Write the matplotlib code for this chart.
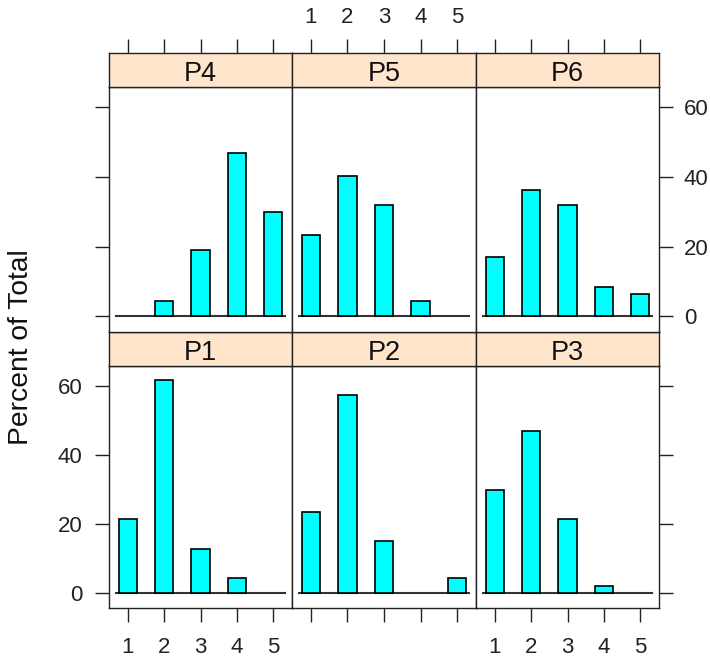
import matplotlib
matplotlib.use('agg')
from matplotlib import pyplot as plt
import numpy as np

plt.rcParams['font.family'] = ['Liberation Sans', 'DejaVu Sans']

# percent of total per score (1..5), one list per panel
scores = [1, 2, 3, 4, 5]
p1 = [21.3, 61.7, 12.8, 4.3, 0]
p2 = [23.4, 57.4, 14.9, 0, 4.3]
p3 = [29.8, 46.8, 21.3, 2.1, 0]
p4 = [0, 4.3, 19.1, 46.8, 29.8]
p5 = [23.4, 40.4, 31.9, 4.3, 0]
p6 = [17.0, 36.2, 31.9, 8.5, 6.4]
panel_names = ['P1', 'P2', 'P3', 'P4', 'P5', 'P6']
panel_values = [p1, p2, p3, p4, p5, p6]
y_ticks = [0, 20, 40, 60]

W, H = 710, 661
fig = plt.figure(figsize=(W / 100, H / 100), dpi=100)

x_edges = [109, 292, 476, 659]
# (strip top, body top, body bottom) in pixels for top row and bottom row
rows = [(52.7, 87.3, 331.7), (331.7, 366.0, 608.3)]
edge_col = '#222222'
tick_fs = 16


def box(x0, x1, y0, y1):
    return [x0 / W, 1 - y1 / H, (x1 - x0) / W, (y1 - y0) / H]


for i in range(6):
    r = 1 if i < 3 else 0   # P1-P3 bottom row, P4-P6 top row
    c = i % 3
    s_top, b_top, b_bot = rows[r]
    x0, x1 = x_edges[c], x_edges[c + 1]

    ax = fig.add_axes(box(x0, x1, b_top, b_bot))
    vals = panel_values[i]
    xs = [s for s, v in zip(scores, vals) if v > 0]
    vs = [v for v in vals if v > 0]
    ax.bar(xs, vs, width=0.5, color='#00FFFF', edgecolor='black', linewidth=1.2, zorder=3)
    ax.plot([0.67, 5.33], [0, 0], color='#333333', lw=1.5, zorder=2)
    ax.set_xlim(0.48, 5.52)
    ax.set_ylim(-4.5, 65.8)
    for sp in ax.spines.values():
        sp.set_color(edge_col)
        sp.set_linewidth(1.0)

    ax.set_xticks(scores)
    ax.set_yticks(y_ticks)
    ax.tick_params(length=10, width=1.0, color=edge_col, labelsize=tick_fs,
                   labelcolor='#222222')
    # alternating lattice axes
    if r == 1:
        ax.tick_params(axis='x', bottom=True, top=False, labelbottom=(c != 1),
                       labeltop=False, pad=10.5)
    else:
        ax.tick_params(axis='x', bottom=False, top=False, labelbottom=False, labeltop=False)
    left = c == 0
    right = c == 2
    ax.tick_params(axis='y', left=left, right=right,
                   labelleft=(left and r == 1), labelright=(right and r == 0),
                   pad=9 if left else 8)

    # strip
    sax = fig.add_axes(box(x0, x1, s_top, b_top))
    sax.set_facecolor('#FFE5CC')
    sax.set_xticks([])
    sax.set_yticks([])
    sax.set_xlim(0.48, 5.52)
    for sp in sax.spines.values():
        sp.set_color(edge_col)
        sp.set_linewidth(1.0)
    sax.text(0.5, 0.17, panel_names[i], transform=sax.transAxes, ha='center', va='baseline',
             fontsize=19.5, color='#111111')
    if r == 0:
        sax.set_xticks(scores)
        sax.tick_params(axis='x', top=True, bottom=False, labelbottom=False,
                        labeltop=(c == 1), length=10, width=1.0, color=edge_col,
                        labelsize=tick_fs, pad=8, labelcolor='#222222')

fig.text(21 / W, 1 - 346.7 / H, 'Percent of Total', rotation=90, ha='center', va='center',
         fontsize=20.3, color='#111111')

fig.savefig('out.png', dpi=100)
